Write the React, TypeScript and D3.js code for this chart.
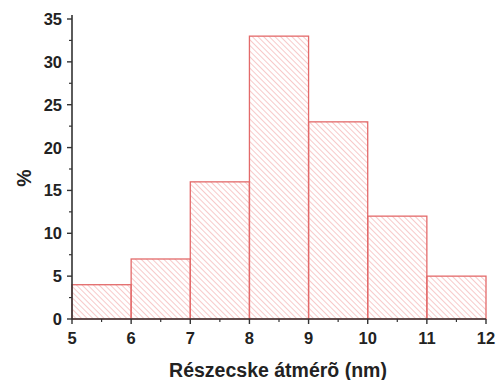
import React from "react";
import * as d3 from "d3";

const binStarts = [5, 6, 7, 8, 9, 10, 11];
const binWidth = 1;
const percents = [4, 7, 16, 33, 23, 12, 5];
const xTicks = [5, 6, 7, 8, 9, 10, 11, 12];
const yTicks = [0, 5, 10, 15, 20, 25, 30, 35];
const xLabel = "Részecske átmérõ (nm)";
const yLabel = "%";

export default function App() {
  const W = 501, H = 380;
  const left = 72, right = 486, top = 19, bottom = 319;
  const x = d3.scaleLinear().domain([5, 12]).range([left, right]);
  const y = d3.scaleLinear().domain([0, 35]).range([bottom, top]);
  const font = "Arial, 'Liberation Sans', sans-serif";
  const axisColor = "#333";
  const xMinor = d3.range(5.5, 12, 1);
  const yMinor = d3.range(2.5, 35, 5);
  return (
    <svg width={W} height={H} style={{ position: "absolute", left: 0, top: 0, background: "#fff" }}>
      <defs>
        <pattern id="hatch" patternUnits="userSpaceOnUse" width={4} height={4} patternTransform="rotate(-45)">
          <line x1={0} y1={0} x2={0} y2={4} stroke="#f2a6a6" strokeWidth={1.2} />
        </pattern>
      </defs>
      {binStarts.map((s, i) => (
        <rect
          key={i}
          x={x(s)}
          y={y(percents[i])}
          width={x(s + binWidth) - x(s)}
          height={y(0) - y(percents[i])}
          fill="url(#hatch)"
          stroke="#e36a6a"
          strokeWidth={1.3}
        />
      ))}
      {/* axes */}
      <line x1={left} y1={bottom} x2={right} y2={bottom} stroke={axisColor} strokeWidth={1.6} />
      <line x1={left} y1={bottom} x2={left} y2={top - 4} stroke={axisColor} strokeWidth={1.6} />
      {xTicks.map((t) => (
        <g key={"xt" + t}>
          <line x1={x(t)} x2={x(t)} y1={bottom} y2={bottom + 5} stroke={axisColor} strokeWidth={1.4} />
          <text x={x(t)} y={bottom + 25} textAnchor="middle" fontFamily={font} fontWeight="bold" fontSize={16.5} fill="#222">
            {t}
          </text>
        </g>
      ))}
      {xMinor.map((t) => (
        <line key={"xm" + t} x1={x(t)} x2={x(t)} y1={bottom} y2={bottom + 3} stroke={axisColor} strokeWidth={1.2} />
      ))}
      {yTicks.map((t) => (
        <g key={"yt" + t}>
          <line x1={left} x2={left - 5} y1={y(t)} y2={y(t)} stroke={axisColor} strokeWidth={1.4} />
          <text x={left - 10} y={y(t) + 6} textAnchor="end" fontFamily={font} fontWeight="bold" fontSize={16.5} fill="#222">
            {t}
          </text>
        </g>
      ))}
      {yMinor.map((t) => (
        <line key={"ym" + t} x1={left} x2={left - 3} y1={y(t)} y2={y(t)} stroke={axisColor} strokeWidth={1.2} />
      ))}
      <text x={278} y={377} textAnchor="middle" fontFamily={font} fontWeight="bold" fontSize={19.5} fill="#222">
        {xLabel}
      </text>
      <text
        transform={`translate(31, 178) rotate(-90)`}
        textAnchor="middle"
        fontFamily={font}
        fontWeight="bold"
        fontSize={19.5}
        fill="#222"
      >
        {yLabel}
      </text>
    </svg>
  );
}
